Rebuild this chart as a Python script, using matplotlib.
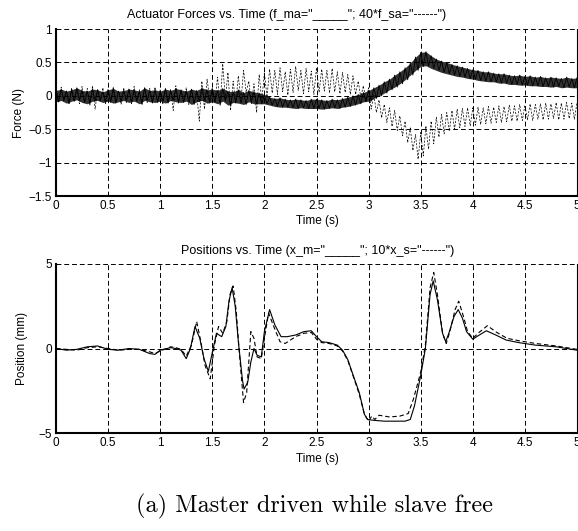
import numpy as np
import matplotlib
matplotlib.use("Agg")
from matplotlib import pyplot as plt

# force samples every 0.05 s, upper / lower extent of the noisy traces
t_force = np.round(np.arange(0, 5.0001, 0.05), 3)

fma_hi = [0.08, 0.10, 0.07, 0.09, 0.12, 0.08, 0.07, 0.10, 0.09, 0.06,
          0.09, 0.11, 0.07, 0.08, 0.10, 0.09, 0.07, 0.12, 0.08, 0.09,
          0.07, 0.10, 0.08, 0.11, 0.09, 0.07, 0.10, 0.08, 0.12, 0.09,
          0.10, 0.08, 0.11, 0.07, 0.06, 0.09, 0.05, 0.08, 0.06, 0.04,
          0.02, -0.02, -0.04, -0.03, -0.05, -0.06, -0.05, -0.06, -0.07, -0.05,
          -0.05, -0.06, -0.07, -0.05, -0.06, -0.04, -0.02, 0.00, 0.02, 0.05,
          0.08, 0.12, 0.16, 0.21, 0.25, 0.31, 0.36, 0.42, 0.49, 0.58,
          0.65, 0.66, 0.60, 0.55, 0.52, 0.50, 0.47, 0.45, 0.43, 0.41,
          0.39, 0.38, 0.36, 0.36, 0.34, 0.33, 0.33, 0.31, 0.30, 0.31,
          0.29, 0.30, 0.28, 0.29, 0.27, 0.28, 0.27, 0.26, 0.28, 0.26, 0.27]
fma_lo = [-0.09, -0.07, -0.11, -0.08, -0.06, -0.10, -0.12, -0.08, -0.07, -0.10,
          -0.08, -0.11, -0.09, -0.07, -0.10, -0.08, -0.12, -0.07, -0.09, -0.10,
          -0.08, -0.11, -0.07, -0.09, -0.10, -0.08, -0.13, -0.09, -0.07, -0.11,
          -0.09, -0.12, -0.08, -0.14, -0.10, -0.11, -0.13, -0.09, -0.12, -0.12,
          -0.12, -0.14, -0.16, -0.17, -0.17, -0.18, -0.19, -0.18, -0.19, -0.19,
          -0.19, -0.20, -0.19, -0.18, -0.19, -0.17, -0.16, -0.14, -0.12, -0.09,
          -0.08, -0.04, 0.00, 0.04, 0.09, 0.13, 0.18, 0.24, 0.31, 0.38,
          0.44, 0.45, 0.41, 0.38, 0.35, 0.33, 0.31, 0.29, 0.28, 0.26,
          0.25, 0.23, 0.22, 0.21, 0.21, 0.19, 0.19, 0.17, 0.17, 0.16,
          0.16, 0.15, 0.15, 0.14, 0.14, 0.13, 0.14, 0.12, 0.13, 0.12, 0.12]

fsa_hi = [0.10, 0.13, 0.08, 0.12, 0.09, 0.14, 0.11, 0.15, 0.09, 0.12,
          0.10, 0.13, 0.08, 0.12, 0.10, 0.14, 0.09, 0.12, 0.11, 0.13,
          0.09, 0.12, 0.10, 0.15, 0.08, 0.12, 0.10, 0.05, 0.22, 0.25,
          0.12, 0.28, 0.48, 0.35, 0.22, 0.30, 0.38, 0.22, 0.18, 0.32,
          0.35, 0.40, 0.38, 0.42, 0.36, 0.40, 0.44, 0.38, 0.41, 0.37,
          0.42, 0.40, 0.38, 0.41, 0.36, 0.35, 0.32, 0.30, 0.22, 0.15,
          0.12, 0.02, -0.06, -0.13, -0.18, -0.22, -0.30, -0.38, -0.48, -0.58,
          -0.55, -0.45, -0.38, -0.32, -0.28, -0.25, -0.22, -0.20, -0.19, -0.18,
          -0.18, -0.17, -0.18, -0.16, -0.17, -0.15, -0.16, -0.14, -0.15, -0.13,
          -0.14, -0.12, -0.13, -0.12, -0.11, -0.12, -0.10, -0.11, -0.10, -0.11, -0.10]
fsa_lo = [-0.10, -0.08, -0.13, -0.09, -0.12, -0.10, -0.14, -0.20, -0.09, -0.12,
          -0.11, -0.08, -0.13, -0.10, -0.12, -0.09, -0.14, -0.10, -0.12, -0.09,
          -0.13, -0.10, -0.22, -0.11, -0.09, -0.13, -0.10, -0.38, -0.20, -0.05,
          -0.10, -0.15, -0.05, -0.22, -0.12, -0.08, 0.05, -0.12, -0.25, -0.08,
          -0.02, 0.04, 0.02, 0.06, 0.01, 0.05, 0.08, 0.03, 0.06, 0.02,
          0.05, 0.07, 0.04, 0.06, 0.03, 0.05, 0.02, 0.02, -0.02, -0.08,
          -0.20, -0.25, -0.33, -0.40, -0.46, -0.52, -0.60, -0.70, -0.82, -0.95,
          -0.90, -0.80, -0.72, -0.62, -0.57, -0.53, -0.50, -0.48, -0.46, -0.45,
          -0.44, -0.43, -0.42, -0.41, -0.40, -0.40, -0.39, -0.38, -0.38, -0.37,
          -0.36, -0.37, -0.35, -0.36, -0.35, -0.34, -0.36, -0.35, -0.34, -0.35, -0.34]

# master position (mm) and scaled slave position 10*x_s (mm)
xm_t = [0, 0.1, 0.2, 0.3, 0.4, 0.5, 0.6, 0.7, 0.8, 0.9, 0.95, 1.0, 1.1, 1.15,
        1.2, 1.25, 1.29, 1.334, 1.38, 1.42, 1.462, 1.51, 1.54, 1.59, 1.63,
        1.66, 1.69, 1.72, 1.75, 1.79, 1.805, 1.84, 1.87, 1.9, 1.93, 1.97, 2.0,
        2.05, 2.1, 2.16, 2.22, 2.3, 2.38, 2.45, 2.5, 2.55, 2.62, 2.7, 2.75,
        2.8, 2.85, 2.91, 2.96, 2.99, 3.05, 3.15, 3.25, 3.35, 3.4, 3.44, 3.5,
        3.545, 3.59, 3.62, 3.66, 3.71, 3.74, 3.77, 3.82, 3.86, 3.9, 3.94, 4.0,
        4.05, 4.13, 4.22, 4.32, 4.44, 4.6, 4.8, 5.0]
xm = [0.0, -0.1, -0.05, 0.1, 0.15, -0.05, -0.1, 0.0, -0.05, -0.3, -0.35, -0.1,
      0.05, 0.0, -0.1, -0.6, 0.0, 1.3, 0.6, -0.6, -1.35, 0.05, 0.9, 0.7, 1.3,
      2.8, 3.6, 2.5, 0.4, -1.9, -2.4, -2.0, -0.8, 0.0, -0.4, -0.5, 1.0,
      2.3, 1.4, 0.7, 0.7, 0.8, 1.0, 1.05, 0.7, 0.4, 0.35, 0.2, -0.1,
      -0.65, -1.55, -2.6, -3.9, -4.2, -4.25, -4.3, -4.3, -4.3, -4.2, -3.4, -1.6,
      0.0, 3.2, 4.0, 2.9, 0.9, 0.4, 0.9, 1.9, 2.3, 1.8, 1.0, 0.55,
      0.75, 1.05, 0.8, 0.5, 0.35, 0.2, 0.1, -0.1]

xs_t = [0, 0.1, 0.2, 0.3, 0.4, 0.5, 0.6, 0.7, 0.8, 0.9, 0.95, 1.0, 1.1, 1.15,
        1.2, 1.25, 1.3, 1.35, 1.39, 1.43, 1.48, 1.52, 1.56, 1.6, 1.64, 1.67,
        1.7, 1.73, 1.76, 1.8, 1.83, 1.87, 1.9, 1.93, 1.97, 2.0, 2.04, 2.09,
        2.15, 2.2, 2.3, 2.38, 2.45, 2.5, 2.55, 2.62, 2.7, 2.75, 2.8, 2.85,
        2.91, 2.96, 3.0, 3.03, 3.06, 3.1, 3.2, 3.3, 3.38, 3.43, 3.5, 3.545,
        3.59, 3.625, 3.66, 3.71, 3.745, 3.78, 3.83, 3.865, 3.91, 3.95, 4.0,
        4.05, 4.14, 4.23, 4.33, 4.45, 4.6, 4.8, 5.0]
xs = [0.0, -0.05, -0.1, 0.05, 0.1, 0.0, -0.1, -0.05, -0.05, -0.2, -0.3, -0.15,
      0.1, 0.05, -0.05, -0.45, 0.2, 1.6, 0.4, -1.0, -1.8, 0.2, 1.3, 0.9, 1.6,
      3.2, 3.7, 2.2, -0.3, -3.2, -2.6, 1.0, 0.6, -0.5, -0.6, 0.6, 2.1, 1.3,
      0.4, 0.3, 0.7, 0.9, 0.95, 0.55, 0.35, 0.3, 0.15, -0.15, -0.7, -1.6,
      -2.7, -3.9, -4.3, -4.0, -4.2, -3.95, -4.05, -4.0, -3.85, -3.0, -1.4, 0.2,
      3.6, 4.5, 3.2, 0.9, 0.3, 1.0, 2.3, 2.8, 1.9, 1.0, 0.6,
      0.9, 1.35, 0.95, 0.6, 0.45, 0.3, 0.15, -0.05]

force_ticks = [-1.5, -1, -0.5, 0, 0.5, 1]
force_labels = ["\u22121.5", "\u22121", "\u22120.5", "0", "0.5", "1"]
pos_ticks = [-5, 0, 5]
pos_labels = ["\u22125", "0", "5"]
time_ticks = [0, 0.5, 1, 1.5, 2, 2.5, 3, 3.5, 4, 4.5, 5]
time_labels = ["0", "0.5", "1", "1.5", "2", "2.5", "3", "3.5", "4", "4.5", "5"]

plt.rcParams['font.family'] = ['Liberation Sans', 'DejaVu Sans']
plt.rcParams['font.size'] = 8.5

fig = plt.figure(figsize=(5.78, 5.31), dpi=100)
ax1 = fig.add_axes([56 / 578, 1 - 196 / 531, 521 / 578, 167 / 531])
ax2 = fig.add_axes([56 / 578, 1 - 433 / 531, 521 / 578, 169 / 531])

grid_ls = (0, (5, 3))


def zigzag(t, hi, lo):
    # alternate between the upper and lower extent to draw the noise band
    half = 0.025
    xx = np.empty(2 * len(t))
    yy = np.empty(2 * len(t))
    xx[0::2] = t
    xx[1::2] = np.asarray(t) + half
    yy[0::2] = hi
    yy[1::2] = lo
    keep = xx <= 5.0
    return xx[keep], yy[keep]


def style(ax):
    ax.set_xlim(0, 5)
    ax.grid(True, color='k', linestyle=grid_ls, linewidth=0.7)
    ax.set_axisbelow(True)
    for s in ('left', 'bottom'):
        ax.spines[s].set_linewidth(1.5)
    ax.spines['top'].set_visible(False)
    ax.spines['right'].set_linewidth(0.8)
    ax.tick_params(length=0, pad=3, labelsize=8.5)
    ax.set_xticks(time_ticks)
    ax.set_xticklabels(time_labels)


# top: actuator forces
x, y = zigzag(t_force, fsa_hi, fsa_lo)
ax1.plot(x, y, color='k', lw=0.5, linestyle=(0, (3, 2)))
ax1.fill_between(t_force, fma_lo, fma_hi, color='k', lw=0, alpha=0.8)
x, y = zigzag(t_force, fma_hi, fma_lo)
ax1.plot(x, y, color='k', lw=0.6)
ax1.set_ylim(-1.5, 1)
ax1.set_yticks(force_ticks)
ax1.set_yticklabels(force_labels)
style(ax1)

# bottom: positions
ax2.plot(xm_t, xm, color='k', lw=0.8)
ax2.plot(xs_t, xs, color='k', lw=0.8, linestyle=(0, (4, 2.5)))
ax2.set_ylim(-5, 5)
ax2.set_yticks(pos_ticks)
ax2.set_yticklabels(pos_labels)
style(ax2)

fig.text(287 / 578, 1 - 15 / 531,
         'Actuator Forces vs. Time (f_ma="_____"; 40*f_sa="------")',
         ha='center', va='center', fontsize=9)
fig.text(318 / 578, 1 - 251 / 531,
         'Positions vs. Time (x_m="_____"; 10*x_s="------")',
         ha='center', va='center', fontsize=9)
fig.text(317 / 578, 1 - 221 / 531, 'Time (s)', ha='center', va='center', fontsize=8.5)
fig.text(317 / 578, 1 - 459 / 531, 'Time (s)', ha='center', va='center', fontsize=8.5)
fig.text(19 / 578, 1 - 113 / 531, 'Force (N)', rotation=90, ha='center', va='center', fontsize=8.5)
fig.text(22 / 578, 1 - 348 / 531, 'Position (mm)', rotation=90, ha='center', va='center', fontsize=8.5)
fig.text(315 / 578, 1 - 506 / 531, '(a) Master driven while slave free',
         ha='center', va='center', fontsize=17.5, family='cmr10')

fig.savefig('out.png', dpi=100)
